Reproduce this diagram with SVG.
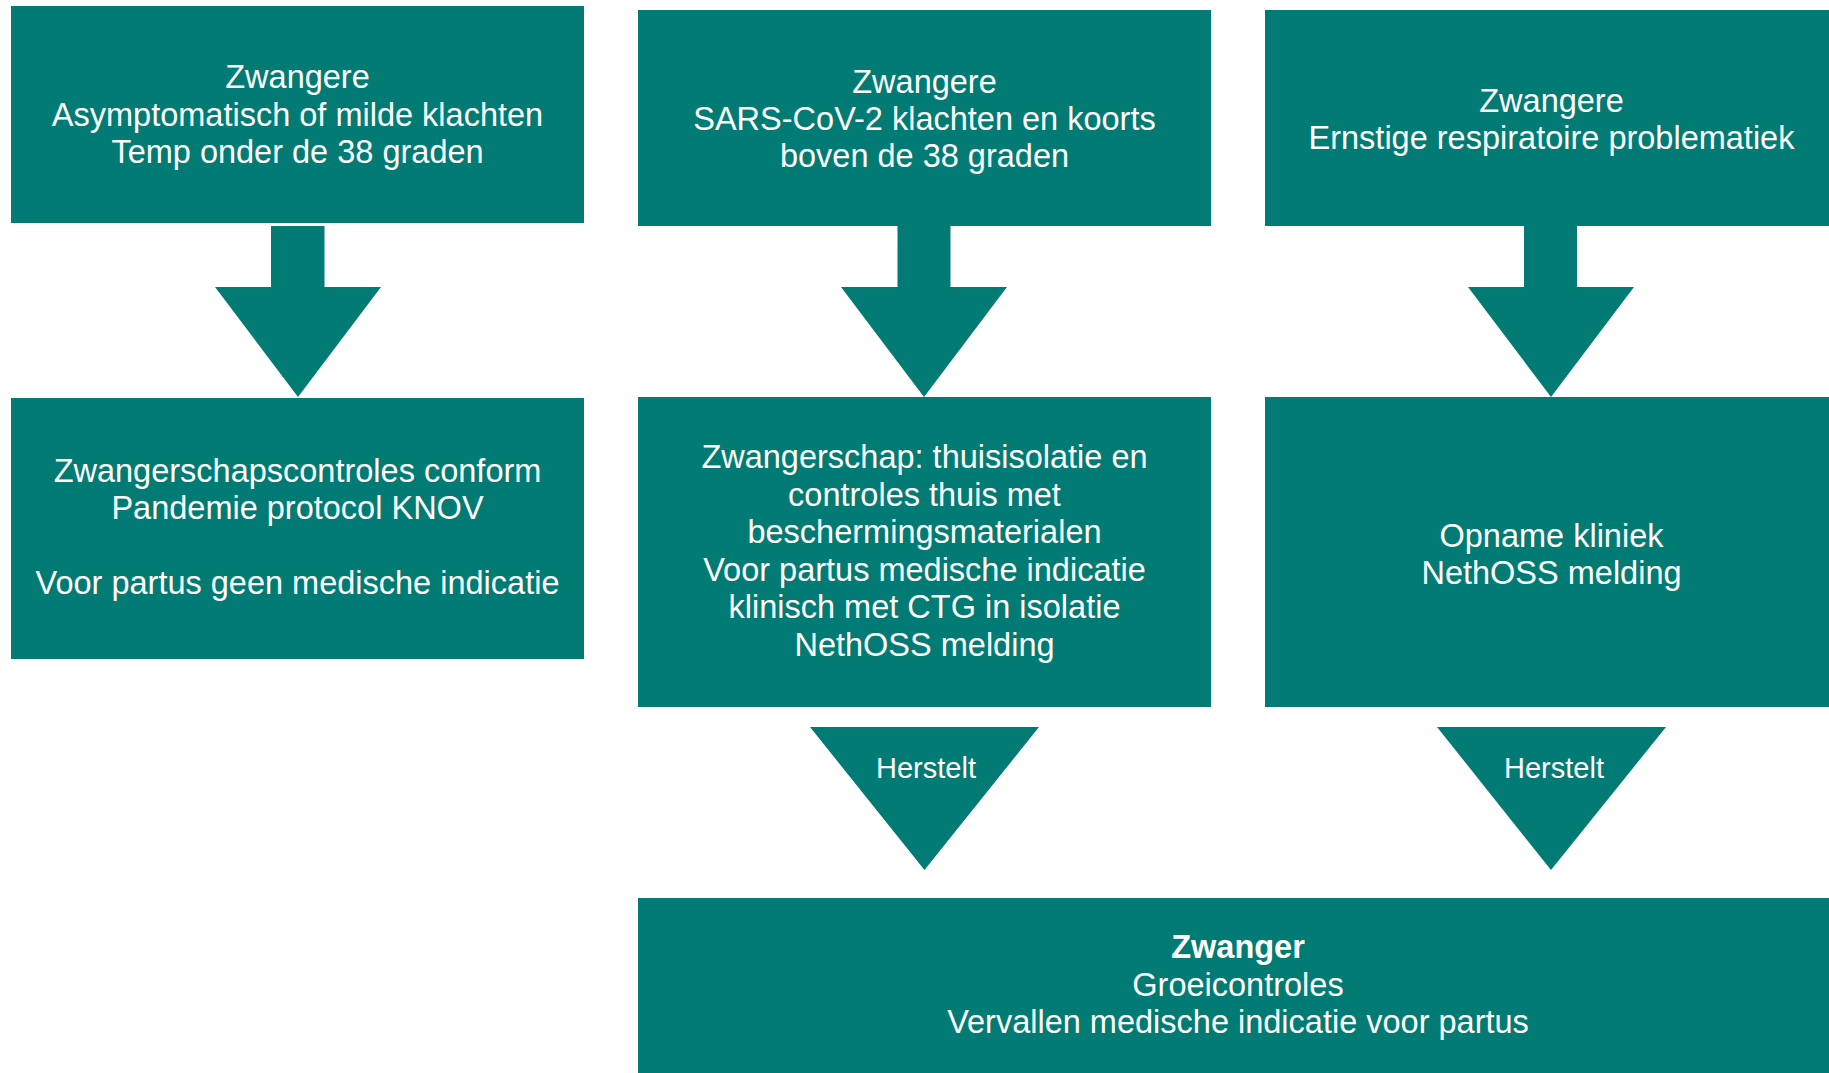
<svg xmlns="http://www.w3.org/2000/svg" width="1829" height="1073" viewBox="0 0 1829 1073">
<style>
.box{fill:#017B73}
.arr{fill:#017B73}
text{font-family:"Liberation Sans",Arial,Helvetica,sans-serif;font-size:32.5px;fill:#ffffff;text-anchor:middle}
.lbl{font-size:29px}
.b{font-weight:bold}
</style>
<rect width="1829" height="1073" fill="#ffffff"/>
<g id="connectors">
  <g id="arrow1">
    <rect class="arr" x="271" y="226" width="53.5" height="62"/>
    <polygon class="arr" points="215,287 381,287 298,397"/>
  </g>
  <g id="arrow2">
    <rect class="arr" x="897.5" y="225" width="53" height="63"/>
    <polygon class="arr" points="841,287 1007,287 924,397"/>
  </g>
  <g id="arrow3">
    <rect class="arr" x="1524" y="225" width="53" height="63"/>
    <polygon class="arr" points="1468,287 1634,287 1551,397"/>
  </g>
  <g id="herstelt1">
    <polygon class="arr" points="810,727 1039,727 924.5,870"/>
    <text class="lbl" x="926" y="778">Herstelt</text>
  </g>
  <g id="herstelt2">
    <polygon class="arr" points="1437,727 1666,727 1551,870"/>
    <text class="lbl" x="1554" y="778">Herstelt</text>
  </g>
</g>
<g id="node1">
  <rect class="box" x="11" y="6" width="573" height="217"/>
  <text x="297.5" y="88">Zwangere</text>
  <text x="297.5" y="125.5">Asymptomatisch of milde klachten</text>
  <text x="297.5" y="163">Temp onder de 38 graden</text>
</g>
<g id="node2">
  <rect class="box" x="638" y="10" width="573" height="216"/>
  <text x="924.5" y="93">Zwangere</text>
  <text x="924.5" y="130">SARS-CoV-2 klachten en koorts</text>
  <text x="924.5" y="167">boven de 38 graden</text>
</g>
<g id="node3">
  <rect class="box" x="1265" y="10" width="573" height="216"/>
  <text x="1551.5" y="112">Zwangere</text>
  <text x="1551.5" y="148.5">Ernstige respiratoire problematiek</text>
</g>
<g id="node4">
  <rect class="box" x="11" y="398" width="573" height="261"/>
  <text x="297.5" y="482">Zwangerschapscontroles conform</text>
  <text x="297.5" y="519">Pandemie protocol KNOV</text>
  <text x="297.5" y="594">Voor partus geen medische indicatie</text>
</g>
<g id="node5">
  <rect class="box" x="638" y="397" width="573" height="310"/>
  <text x="924.5" y="468">Zwangerschap: thuisisolatie en</text>
  <text x="924.5" y="506">controles thuis met</text>
  <text x="924.5" y="543">beschermingsmaterialen</text>
  <text x="924.5" y="581">Voor partus medische indicatie</text>
  <text x="924.5" y="618">klinisch met CTG in isolatie</text>
  <text x="924.5" y="656">NethOSS melding</text>
</g>
<g id="node6">
  <rect class="box" x="1265" y="397" width="573" height="310"/>
  <text x="1551.5" y="547">Opname kliniek</text>
  <text x="1551.5" y="584">NethOSS melding</text>
</g>
<g id="node7">
  <rect class="box" x="638" y="898" width="1200" height="180"/>
  <text class="b" x="1238" y="958">Zwanger</text>
  <text x="1238" y="996">Groeicontroles</text>
  <text x="1238" y="1033">Vervallen medische indicatie voor partus</text>
</g>
</svg>
